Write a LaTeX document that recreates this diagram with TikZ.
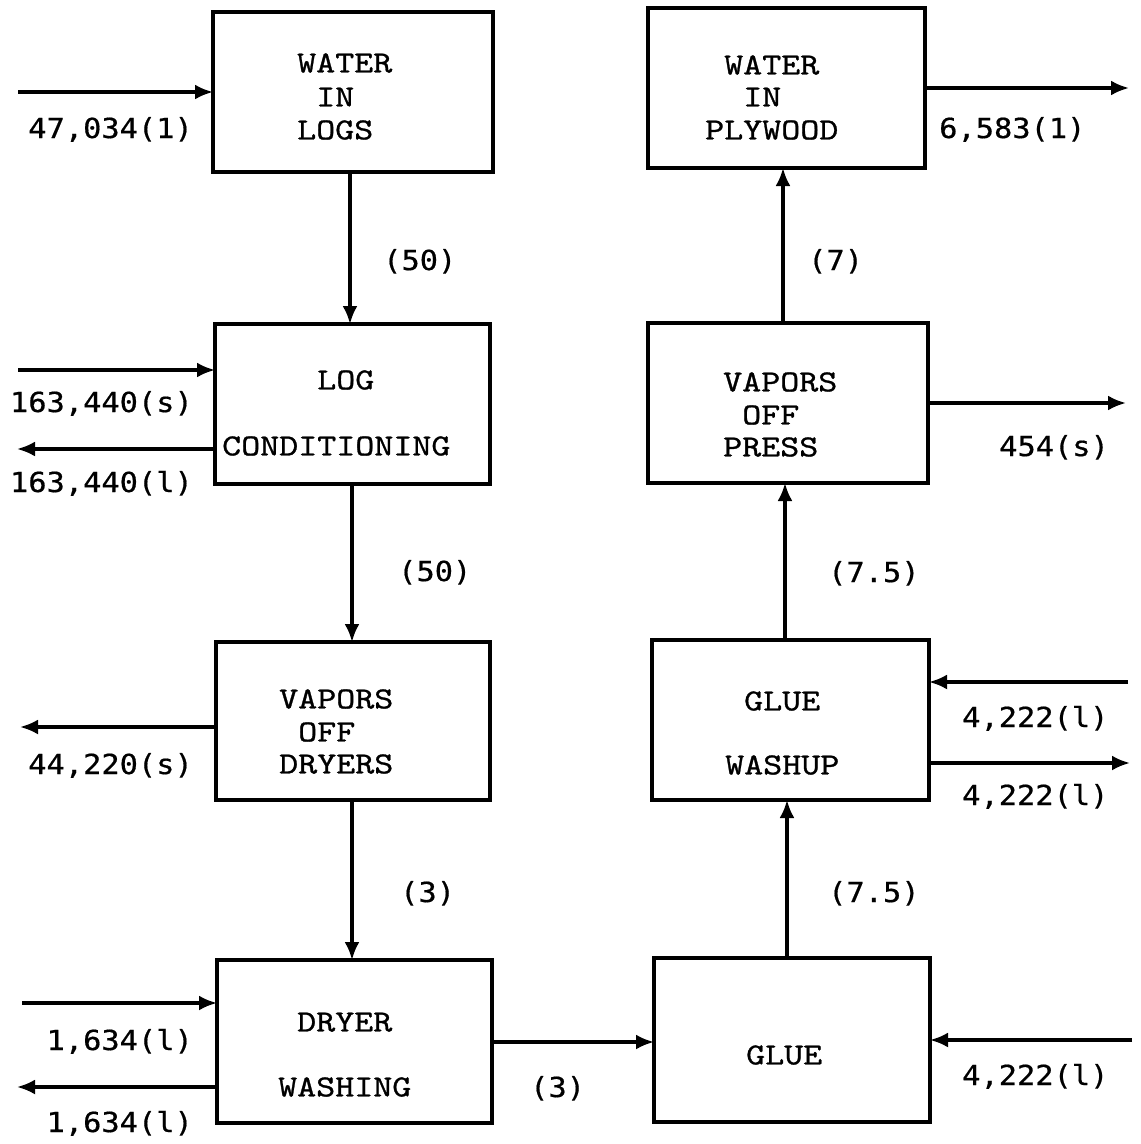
\documentclass[tikz,border=0pt]{standalone}
\usepackage{fontspec}
\newfontfamily\boxfont[FakeStretch=1.18,FakeBold=0.9]{lmmono10-regular.otf}
\newfontfamily\lblfont[FakeStretch=1.1,FakeBold=0.6]{DejaVu Sans Mono}
\usetikzlibrary{arrows.meta}
\newcommand\sk{\hphantom{0}}
\begin{document}
\begin{tikzpicture}[x=1pt,y=-1pt,
  procbox/.style={draw, line width=3.4pt, inner sep=0pt, outer sep=0pt},
  boxtxt/.style={anchor=west, inner sep=0pt, font=\boxfont\fontsize{30.7}{33}\selectfont, text height=18.8pt, text depth=0pt},
  lbl/.style={inner sep=0pt, font=\lblfont\fontsize{27.6}{30}\selectfont, text height=20pt, text depth=0pt},
  lblL/.style={lbl, anchor=east},
  lblR/.style={lbl, anchor=west},
  arr/.style={line width=3.2pt, -{Latex[length=18pt,width=15pt]}}
]
\fill[white] (0,0) rectangle (1141,1144);
\useasboundingbox (0,0) rectangle (1141,1144);

% boxes
\node[procbox, minimum width=280pt, minimum height=160pt] (b1) at (353,92) {};
\node[procbox, minimum width=275pt, minimum height=160pt] (b2) at (352.5,404) {};
\node[procbox, minimum width=274pt, minimum height=158pt] (b3) at (353,721) {};
\node[procbox, minimum width=275pt, minimum height=163pt] (b4) at (354.5,1041.5) {};
\node[procbox, minimum width=277pt, minimum height=160pt] (b5) at (786.5,88) {};
\node[procbox, minimum width=280pt, minimum height=160pt] (b6) at (788,403) {};
\node[procbox, minimum width=277pt, minimum height=160pt] (b7) at (790.5,720) {};
\node[procbox, minimum width=276pt, minimum height=164pt] (b8) at (792,1040) {};

% box texts
\node[boxtxt] (t1a) at (297,63) {WATER};
\node[boxtxt] (t1b) at (297,97) {\sk IN};
\node[boxtxt] (t1c) at (297,130) {LOGS};
\node[boxtxt] (t5a) at (705,65) {\sk WATER};
\node[boxtxt] (t5b) at (705,97) {\sk\sk IN};
\node[boxtxt] (t5c) at (705,130) {PLYWOOD};
\node[boxtxt] (t2a) at (222,380) {\sk\sk\sk\sk\sk LOG};
\node[boxtxt] (t2b) at (222,446) {CONDITIONING};
\node[boxtxt] (t6a) at (723,382) {VAPORS};
\node[boxtxt] (t6b) at (723,415) {\sk OFF};
\node[boxtxt] (t6c) at (723,447) {PRESS};
\node[boxtxt] (t3a) at (279,699) {VAPORS};
\node[boxtxt] (t3b) at (279,732) {\sk OFF};
\node[boxtxt] (t3c) at (279,764) {DRYERS};
\node[boxtxt] (t7a) at (725,701) {\sk GLUE};
\node[boxtxt] (t7b) at (725,765) {WASHUP};
\node[boxtxt] (t4a) at (278,1022) {\sk DRYER};
\node[boxtxt] (t4b) at (278,1087) {WASHING};
\node[boxtxt] (t8a) at (746,1055) {GLUE};

% labels
\node[lblL] (l1) at (193,128) {47,034(1)};
\node[lblL] (l2) at (193,402) {163,440(s)};
\node[lblL] (l3) at (193,482) {163,440(l)};
\node[lblL] (l4) at (193,764) {44,220(s)};
\node[lblL] (l5) at (193,1040) {1,634(l)};
\node[lblL] (l6) at (193,1122) {1,634(l)};
\node[lblR] (m1) at (383,260) {(50)};
\node[lblR] (m2) at (398,571) {(50)};
\node[lblR] (m3) at (400,892) {(3)};
\node[lblR] (m4) at (530,1087) {(3)};
\node[lblR] (m5) at (808,260) {(7)};
\node[lblR] (m6) at (828,572) {(7.5)};
\node[lblR] (m7) at (828,892) {(7.5)};
\node[lblR] (r1) at (939,128) {6,583(1)};
\node[lblR] (r2) at (999,446) {454(s)};
\node[lblR] (r3) at (962,717) {4,222(l)};
\node[lblR] (r4) at (962,795) {4,222(l)};
\node[lblR] (r5) at (962,1075) {4,222(l)};

% vertical connectors
\coordinate (xa) at (350,0);
\coordinate (xb) at (352,0);
\coordinate (xc) at (783,0);
\coordinate (xd) at (785,0);
\coordinate (xe) at (787,0);
\draw[arr] (xa |- b1.south) -- (xa |- b2.north);
\draw[arr] (xb |- b2.south) -- (xb |- b3.north);
\draw[arr] (xb |- b3.south) -- (xb |- b4.north);
\draw[arr] (xc |- b6.north) -- (xc |- b5.south);
\draw[arr] (xd |- b7.north) -- (xd |- b6.south);
\draw[arr] (xe |- b8.north) -- (xe |- b7.south);

% horizontal connectors
\coordinate (e1) at (18,92);
\coordinate (e2) at (18,370);
\coordinate (e3) at (17,449);
\coordinate (e4) at (20,727);
\coordinate (e5) at (22,1003);
\coordinate (e6) at (17,1087);
\coordinate (e7) at (1129,88);
\coordinate (e8) at (1126,403);
\coordinate (e9) at (1128,682);
\coordinate (e10) at (1130,763);
\coordinate (e11) at (1132,1040);
\coordinate (h1) at (0,1042);
\draw[arr] (e1) -- (e1 -| b1.west);
\draw[arr] (e2) -- (e2 -| b2.west);
\draw[arr] (e3 -| b2.west) -- (e3);
\draw[arr] (e4 -| b3.west) -- (e4);
\draw[arr] (e5) -- (e5 -| b4.west);
\draw[arr] (e6 -| b4.west) -- (e6);
\draw[arr] (e7 -| b5.east) -- (e7);
\draw[arr] (e8 -| b6.east) -- (e8);
\draw[arr] (e9) -- (e9 -| b7.east);
\draw[arr] (e10 -| b7.east) -- (e10);
\draw[arr] (e11) -- (e11 -| b8.east);
\draw[arr] (h1 -| b4.east) -- (h1 -| b8.west);
\end{tikzpicture}
\end{document}
